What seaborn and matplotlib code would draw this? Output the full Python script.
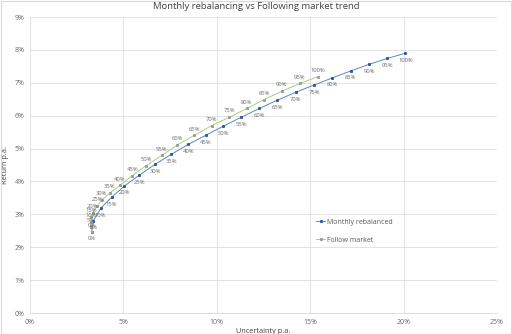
import numpy as np
import pandas as pd
import matplotlib
matplotlib.use("Agg")
import matplotlib.pyplot as plt
import seaborn as sns

mix_labels = ["0%", "5%", "10%", "15%", "20%", "25%", "30%", "35%", "40%", "45%", "50%",
              "55%", "60%", "65%", "70%", "75%", "80%", "85%", "90%", "95%", "100%"]

monthly_risk = [3.30, 3.39, 3.78, 4.37, 5.05, 5.85, 6.69, 7.55, 8.48, 9.40, 10.35,
                11.30, 12.28, 13.24, 14.22, 15.20, 16.19, 17.17, 18.15, 19.13, 20.10]
monthly_ret = [2.47, 2.80, 3.18, 3.52, 3.86, 4.19, 4.52, 4.82, 5.13, 5.40, 5.68,
               5.95, 6.22, 6.47, 6.71, 6.93, 7.15, 7.36, 7.56, 7.74, 7.90]

follow_risk = [3.30, 3.27, 3.26, 3.28, 3.36, 3.60, 3.84, 4.28, 4.82, 5.48, 6.21,
               7.05, 7.89, 8.78, 9.73, 10.67, 11.60, 12.54, 13.47, 14.45, 15.43]
follow_ret = [2.47, 2.63, 2.78, 2.92, 3.05, 3.25, 3.44, 3.65, 3.88, 4.18, 4.48,
              4.79, 5.11, 5.40, 5.70, 5.95, 6.22, 6.49, 6.74, 6.98, 7.19]

series_names = ["Monthly rebalanced", "Follow market"]

df = pd.concat([
    pd.DataFrame({"risk": np.array(monthly_risk) / 100, "ret": np.array(monthly_ret) / 100,
                  "label": mix_labels, "series": series_names[0]}),
    pd.DataFrame({"risk": np.array(follow_risk) / 100, "ret": np.array(follow_ret) / 100,
                  "label": mix_labels, "series": series_names[1]}),
], ignore_index=True)

sns.set_theme(style="white")
plt.rcParams['font.family'] = ['Open Sans', 'DejaVu Sans']

fig = plt.figure(figsize=(5.12, 3.34), dpi=100)
ax = fig.add_axes([30 / 512, 1 - 313 / 334, 467 / 512, 296 / 334])

line_colors = {series_names[0]: "#5b86c4", series_names[1]: "#a6cf87"}
marker_colors = {series_names[0]: "#2e55a0", series_names[1]: "#9a9a9a"}

for name in series_names:
    sub = df[df["series"] == name]
    sns.lineplot(data=sub, x="risk", y="ret", sort=False, ax=ax, color=line_colors[name],
                 linewidth=0.7, marker="s", markersize=1.3,
                 markerfacecolor=marker_colors[name], markeredgecolor=marker_colors[name],
                 label=name, zorder=3)

label_color = "#6a6a6a"
for _, r in df.iterrows():
    if r["series"] == series_names[0]:
        ax.annotate(r["label"], (r["risk"], r["ret"]), xytext=(0, -3.2), textcoords="offset points",
                    ha="center", va="top", fontsize=4.2, color=label_color)
    else:
        ax.annotate(r["label"], (r["risk"], r["ret"]), xytext=(0, 2.8), textcoords="offset points",
                    ha="center", va="bottom", fontsize=4.2, color=label_color)

ax.set_xlim(0, 0.25)
ax.set_ylim(0, 0.09)
ax.set_xticks(np.arange(0, 0.2501, 0.05))
ax.set_yticks(np.arange(0, 0.0901, 0.01))
ax.set_xticklabels([f"{int(round(v * 100))}%" for v in ax.get_xticks()])
ax.set_yticklabels([f"{int(round(v * 100))}%" for v in ax.get_yticks()])
ax.tick_params(axis="both", labelsize=5, colors="#6a6a6a", length=0, pad=4)
ax.grid(True, color="#dedede", linewidth=0.6)
for s in ["top", "right", "left"]:
    ax.spines[s].set_visible(False)
ax.spines["bottom"].set_color("#d9d9d9")
ax.spines["bottom"].set_linewidth(0.6)

ax.set_xlabel("Uncertainty p.a.", fontsize=5.3, color="#404040", labelpad=2)
ax.set_ylabel("Return p.a.", fontsize=5.3, color="#404040", labelpad=4)
fig.suptitle("Monthly rebalancing vs Following market trend", fontsize=6.8, color="#404040", y=0.995)

leg = ax.legend(loc="upper left", bbox_to_anchor=(0.6, 0.34), frameon=False, fontsize=5,
                handlelength=1.2, labelspacing=1.6, handletextpad=0.3)
for t in leg.get_texts():
    t.set_color("#595959")

fig.patches.append(plt.Rectangle((0.001, 0.001), 0.997, 0.997, transform=fig.transFigure,
                                 fill=False, edgecolor="#d9d9d9", linewidth=0.8))

fig.savefig("out.png", dpi=100)
